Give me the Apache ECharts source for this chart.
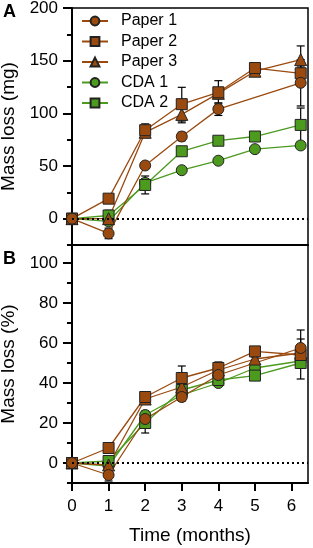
<!DOCTYPE html>
<html>
<head>
<meta charset="utf-8">
<script src="https://cdn.jsdelivr.net/npm/echarts@6/dist/echarts.min.js"></script>
<style>html,body{margin:0;padding:0;background:#fff}#c{width:313px;height:548px}</style>
</head>
<body>
<div id="c"></div>
<script>
// ---- data ----
const months = [0, 1, 2, 3, 4, 5, 6.25];
const xTickValues = [0, 1, 2, 3, 4, 5, 6];
const mgTickValues = [0, 50, 100, 150, 200];
const mgMinorTicks = [-25, 25, 75, 125, 175];
const pctTickValues = [0, 20, 40, 60, 80, 100];
const pctMinorTicks = [-10, 10, 30, 50, 70, 90];
const seriesNames = ['Paper 1', 'Paper 2', 'Paper 3', 'CDA 1', 'CDA 2'];

// Panel A: mass loss (mg)
const mgPaper1 = [0, -14, 50.5, 78, 104, null, 129];
const mgPaper2 = [0, 19, 84, 108.7, 120, 143, 138];
const mgPaper3 = [0, 0, 82, 99, 119, 140, 151];
const mgCDA1   = [0, -2.5, 34, 46, 55, 66, 69.5];
const mgCDA2   = [0, 3, 32, 64, 74, 78, 89];
const mgErrPaper1 = [0, 5, 3, 4, 6, 0, 22];
const mgErrPaper2 = [0, 2, 6, 16, 11, 3, 6];
const mgErrPaper3 = [0, 2, 5, 8, 5, 3, 13];
const mgErrCDA1   = [0, 3, 4, 2, 2, 2, 3];
const mgErrCDA2   = [0, 5, 8.5, 3, 3, 3, 16];

// Panel B: mass loss (%)
const pctPaper1 = [0, -6, 22, 33, 44, null, 57.5];
const pctPaper2 = [0, 7.5, 33, 42.5, 47.5, 55.8, 54];
const pctPaper3 = [0, -1, 32, 38, 46.5, 52, 55];
const pctCDA1   = [0, -1.5, 24, 34, 40, 47.5, 51];
const pctCDA2   = [0, 1, 20, 36.5, 41.5, 43.7, 50];
const pctErrPaper1 = [0, 3, 2, 2, 2, 0, 9];
const pctErrPaper2 = [0, 1, 1, 6, 3, 1, 3];
const pctErrPaper3 = [0, 1, 1, 2, 2, 1, 7];
const pctErrCDA1   = [0, 2, 2, 2, 1, 1, 2];
const pctErrCDA2   = [0, 2.5, 5, 2, 2, 1, 8];

// ---- styles ----
const BROWN = '#9a4a0f';
const GREEN = '#4c9a1e';
const FONT = 'Liberation Sans, Arial, sans-serif';
const styleMap = {
  'Paper 1': {color: BROWN, symbol: 'circle'},
  'Paper 2': {color: BROWN, symbol: 'rect'},
  'Paper 3': {color: BROWN, symbol: 'triangle'},
  'CDA 1':   {color: GREEN, symbol: 'circle'},
  'CDA 2':   {color: GREEN, symbol: 'rect'}
};

const panelA = {
  'Paper 1': [mgPaper1, mgErrPaper1], 'Paper 2': [mgPaper2, mgErrPaper2], 'Paper 3': [mgPaper3, mgErrPaper3],
  'CDA 1': [mgCDA1, mgErrCDA1], 'CDA 2': [mgCDA2, mgErrCDA2]
};
const panelB = {
  'Paper 1': [pctPaper1, pctErrPaper1], 'Paper 2': [pctPaper2, pctErrPaper2], 'Paper 3': [pctPaper3, pctErrPaper3],
  'CDA 1': [pctCDA1, pctErrCDA1], 'CDA 2': [pctCDA2, pctErrCDA2]
};

function errRender(params, api) {
  const x = api.value(0), y = api.value(1), e = api.value(2);
  if (!e || isNaN(y)) return;
  const top = api.coord([x, y + e]);
  const bot = api.coord([x, y - e]);
  const hw = 4;
  const st = {stroke: '#000', lineWidth: 1.2};
  return {type: 'group', children: [
    {type: 'line', shape: {x1: top[0], y1: top[1], x2: bot[0], y2: bot[1]}, style: st},
    {type: 'line', shape: {x1: top[0] - hw, y1: top[1], x2: top[0] + hw, y2: top[1]}, style: st},
    {type: 'line', shape: {x1: bot[0] - hw, y1: bot[1], x2: bot[0] + hw, y2: bot[1]}, style: st}
  ]};
}

const drawOrder = ['CDA 1', 'CDA 2', 'Paper 3', 'Paper 2', 'Paper 1'];
const series = [];
[[panelA, 0, 0], [panelB, 1, 2]].forEach(([panel, xi, yi]) => {
  drawOrder.forEach(name => {
    const [vals, errs] = panel[name];
    series.push({
      type: 'custom', xAxisIndex: xi, yAxisIndex: yi, z: 2,
      renderItem: errRender, silent: true,
      encode: {x: 0, y: 1},
      data: months.map((m, i) => [m, vals[i], errs[i]]).filter(d => d[1] !== null)
    });
  });
  drawOrder.forEach((name, k) => {
    const [vals] = panel[name];
    const st = styleMap[name];
    const s = {
      name: name, type: 'line', xAxisIndex: xi, yAxisIndex: yi, z: 3,
      data: months.map((m, i) => [m, vals[i]]),
      connectNulls: true,
      symbol: st.symbol, symbolSize: st.symbol === 'triangle' ? 12 : 11,
      showAllSymbol: true, clip: false,
      lineStyle: {color: st.color, width: 1.3},
      itemStyle: {color: st.color, borderColor: '#222', borderWidth: 1},
      emphasis: {disabled: true},
      animation: false
    };
    if (k === 0) {
      s.markLine = {
        silent: true, symbol: 'none', label: {show: false},
        lineStyle: {color: '#000', type: [2, 3], width: 2},
        data: [{yAxis: 0}]
      };
    }
    series.push(s);
  });
});

function xAxisDef(grid, showLabels) {
  return {
    type: 'value', gridIndex: grid, min: 0, max: 6.45,
    splitLine: {show: false},
    axisLine: {show: true, onZero: false, lineStyle: {color: '#000', width: 2}},
    axisTick: {show: showLabels, customValues: xTickValues, length: 8, lineStyle: {color: '#000', width: 2}},
    axisLabel: {show: showLabels, customValues: xTickValues, color: '#000', fontSize: 17, fontFamily: FONT, margin: 15},
    name: showLabels ? 'Time (months)' : '', nameLocation: 'middle', nameGap: 43,
    nameTextStyle: {color: '#000', fontSize: 19, fontFamily: FONT}
  };
}
function yAxisMain(grid, min, max, ticks, name) {
  return {
    type: 'value', gridIndex: grid, min: min, max: max,
    splitLine: {show: false},
    axisLine: {show: true, onZero: false, lineStyle: {color: '#000', width: 2}},
    axisTick: {show: true, customValues: ticks, length: 9, lineStyle: {color: '#000', width: 2}},
    axisLabel: {customValues: ticks, color: '#000', fontSize: 17, fontFamily: FONT, margin: 14},
    name: name, nameLocation: 'middle', nameGap: 49,
    nameTextStyle: {color: '#000', fontSize: 19, fontFamily: FONT}
  };
}
function yAxisMinor(grid, min, max, ticks) {
  return {
    type: 'value', gridIndex: grid, min: min, max: max, position: 'left',
    splitLine: {show: false},
    axisLine: {show: false, onZero: false},
    axisTick: {show: true, customValues: ticks, length: 5, lineStyle: {color: '#000', width: 2}},
    axisLabel: {show: false}
  };
}

const option = {
  animation: false,
  textStyle: {fontFamily: FONT},
  grid: [
    {left: 72, top: 8, width: 236, height: 237, show: true, borderColor: '#000', borderWidth: 1.5,
     backgroundColor: 'transparent', containLabel: false, outerBoundsMode: 'none'},
    {left: 72, top: 245, width: 236, height: 238, show: true, borderColor: '#000', borderWidth: 1.5,
     backgroundColor: 'transparent', containLabel: false, outerBoundsMode: 'none'}
  ],
  legend: {
    orient: 'vertical', left: 81, top: 13, padding: 0,
    data: seriesNames,
    itemWidth: 26, itemHeight: 11, itemGap: 4.5,
    textStyle: {color: '#000', fontSize: 16, fontFamily: FONT, lineHeight: 16, padding: [0, 0, 0, 8]},
    selectedMode: false
  },
  xAxis: [xAxisDef(0, false), xAxisDef(1, true)],
  yAxis: [
    yAxisMain(0, -25, 200, mgTickValues, 'Mass loss (mg)'),
    yAxisMinor(0, -25, 200, mgMinorTicks),
    yAxisMain(1, -10, 109, pctTickValues, 'Mass loss (%)'),
    yAxisMinor(1, -10, 109, pctMinorTicks)
  ],
  graphic: [
    {type: 'text', left: 3, top: 3, style: {text: 'A', font: 'bold 18px ' + FONT, fill: '#000'}},
    {type: 'text', left: 3, top: 250, style: {text: 'B', font: 'bold 18px ' + FONT, fill: '#000'}}
  ],
  series: series
};

const chart = echarts.init(document.getElementById('c'), null, {renderer: 'canvas'});
chart.setOption(option);
</script>
</body>
</html>
